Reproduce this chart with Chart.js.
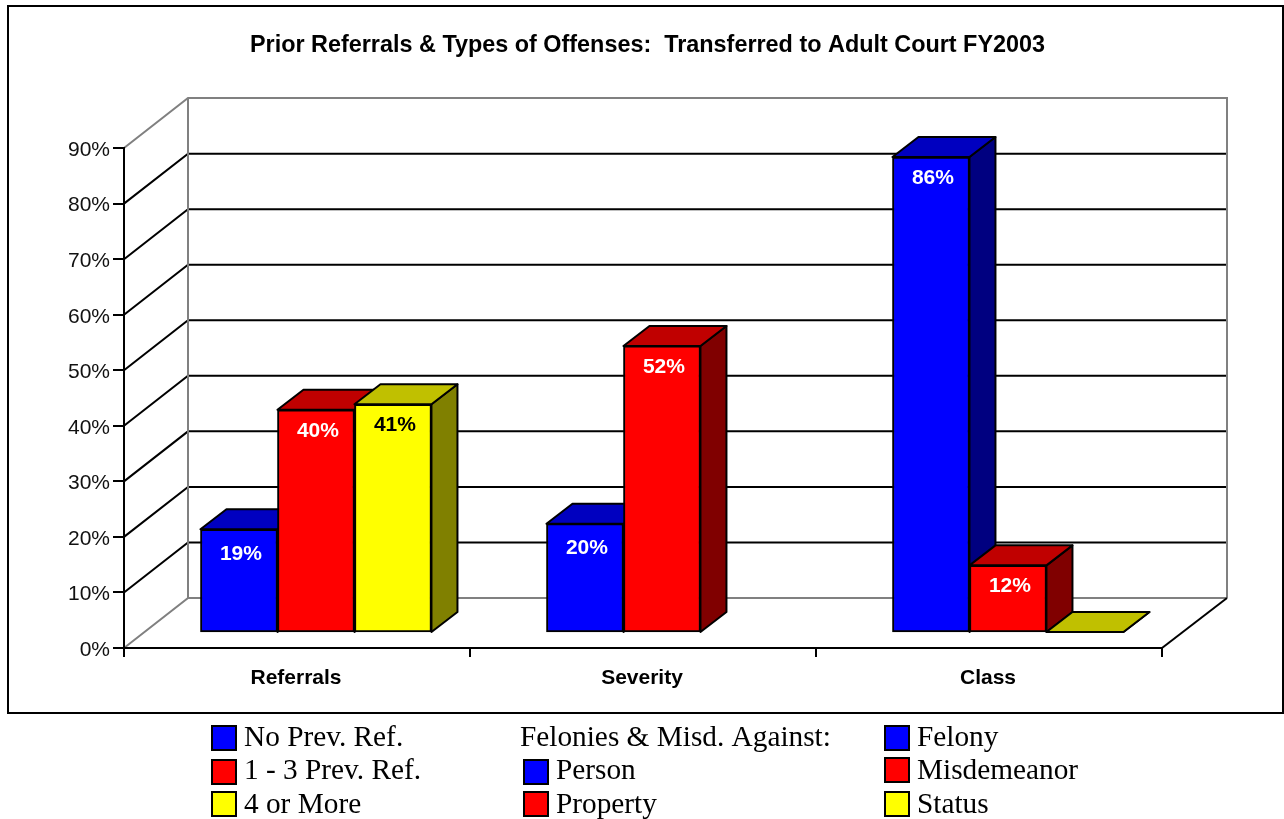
<!DOCTYPE html>
<html>
<head>
<meta charset="utf-8">
<title>Prior Referrals & Types of Offenses</title>
<script src="https://cdn.jsdelivr.net/npm/chart.js@4/dist/chart.umd.min.js"></script>
<style>
  html, body { margin: 0; padding: 0; background: #fff; }
  canvas { display: block; }
</style>
</head>
<body>
<canvas id="chart" width="1284" height="819"></canvas>
<script>
var chartTitle = "Prior Referrals & Types of Offenses:  Transferred to Adult Court FY2003";
var categories = ["Referrals", "Severity", "Class"];
var firstBars = [18.5, 19.5, 85.5];
var secondBars = [40, 51.5, 12];
var thirdBars = [41, null, 0];

var legendCol1 = ["No Prev. Ref.", "1 - 3 Prev. Ref.", "4 or More"];
var legendCol2 = ["Person", "Property"];
var legendCol2Head = "Felonies & Misd. Against:";
var legendCol3 = ["Felony", "Misdemeanor", "Status"];

var BLUE = { front: "#0000ff", top: "#0000c0", side: "#000080" };
var RED = { front: "#ff0000", top: "#c00000", side: "#800000" };
var YELLOW = { front: "#ffff00", top: "#c0c000", side: "#808000" };

// depth of the floor and of the bars, in px
var WALL_DX = 64, WALL_DY = 50;
var BAR_DX = 26, BAR_DY = 20;

function poly(ctx, pts, fill, stroke) {
    ctx.beginPath();
    ctx.moveTo(pts[0][0], pts[0][1]);
    for (var i = 1; i < pts.length; i++) ctx.lineTo(pts[i][0], pts[i][1]);
    if (fill) {
        ctx.closePath();
        ctx.fillStyle = fill;
        ctx.fill();
    }
    ctx.strokeStyle = stroke;
    ctx.lineWidth = 2;
    ctx.stroke();
}

var walls = {
    id: "walls",
    beforeDraw: function (chart) {
        var ctx = chart.ctx, a = chart.chartArea, y = chart.scales.y;
        var backL = a.left + WALL_DX, backR = a.right + WALL_DX + 1;
        ctx.save();
        ctx.strokeStyle = "#000";
        ctx.lineWidth = 2;
        ctx.strokeRect(8, 6, 1275, 707);
        for (var v = 10; v <= 80; v += 10) {
            var p = y.getPixelForValue(v);
            poly(ctx, [[a.left, p], [backL, p - WALL_DY], [backR, p - WALL_DY]], null, "#000");
        }
        var top = y.getPixelForValue(90), bottom = y.getPixelForValue(0);
        poly(ctx, [[a.left, top], [backL, top - WALL_DY], [backR, top - WALL_DY], [backR, bottom - WALL_DY]], null, "#808080");
        poly(ctx, [[a.left, bottom], [backL, bottom - WALL_DY], [backL, top - WALL_DY]], null, "#808080");
        poly(ctx, [[backL, bottom - WALL_DY], [backR, bottom - WALL_DY]], null, "#808080");
        poly(ctx, [[a.right, bottom], [backR, bottom - WALL_DY]], null, "#000");
        ctx.restore();
    }
};

var bars3d = {
    id: "bars3d",
    beforeDatasetsDraw: function (chart) {
        var ctx = chart.ctx;
        ctx.save();
        ctx.lineJoin = "round";
        chart.data.datasets.forEach(function (ds, d) {
            chart.getDatasetMeta(d).data.forEach(function (bar, i) {
                if (ds.data[i].y === null) return;
                var l = bar.x - bar.width / 2, r = bar.x + bar.width / 2, t = bar.y, b = bar.base;
                poly(ctx, [[r, t], [r + BAR_DX, t - BAR_DY], [r + BAR_DX, b - BAR_DY], [r, b]], ds.shade.side, "#000");
                poly(ctx, [[l, t], [l + BAR_DX, t - BAR_DY], [r + BAR_DX, t - BAR_DY], [r, t]], ds.shade.top, "#000");
                if (t === b) poly(ctx, [[l, b], [r, b]], null, "#000");
            });
        });
        ctx.restore();
    },
    afterDatasetsDraw: function (chart) {
        var ctx = chart.ctx;
        ctx.save();
        ctx.font = "bold 21px 'Liberation Sans'";
        ctx.textAlign = "center";
        ctx.textBaseline = "middle";
        chart.data.datasets.forEach(function (ds, d) {
            chart.getDatasetMeta(d).data.forEach(function (bar, i) {
                var v = ds.data[i].y;
                if (!v) return;
                // the two short blue bars carry their labels a bit lower
                var drop = (d === 0 && i < 2) ? 25 : 21;
                ctx.fillStyle = ds.shade === YELLOW ? "#000" : "#fff";
                ctx.fillText(Math.round(v) + "%", bar.x + 2, bar.y + drop);
            });
        });
        ctx.restore();
    }
};

function legendItem(ctx, x, boxY, textY, text, color) {
    ctx.fillStyle = color;
    ctx.fillRect(x + 1, boxY + 1, 24, 24);
    ctx.strokeStyle = "#000";
    ctx.lineWidth = 2;
    ctx.strokeRect(x + 1, boxY + 1, 24, 24);
    ctx.fillStyle = "#000";
    ctx.fillText(text, x + 33, textY);
}

var legendBlock = {
    id: "legendBlock",
    afterDraw: function (chart) {
        var ctx = chart.ctx;
        var colors = [BLUE.front, RED.front, YELLOW.front];
        var boxY = [725, 759, 791], boxY3 = [725, 757, 791], textY = [746, 779, 813];
        ctx.save();
        ctx.font = "29.3px 'Liberation Serif'";
        ctx.textAlign = "left";
        ctx.textBaseline = "alphabetic";
        legendCol1.forEach(function (t, i) { legendItem(ctx, 211, boxY[i], textY[i], t, colors[i]); });
        ctx.fillStyle = "#000";
        ctx.fillText(legendCol2Head, 520, textY[0]);
        legendCol2.forEach(function (t, i) { legendItem(ctx, 523, boxY[i + 1], textY[i + 1], t, colors[i]); });
        legendCol3.forEach(function (t, i) { legendItem(ctx, 884, boxY3[i], textY[i], t, colors[i]); });
        ctx.restore();
    }
};

// the title sits a little right of the plot centre in the original
var titleShift = {
    id: "titleShift",
    afterLayout: function (chart) {
        chart.titleBlock.left += 4.5;
        chart.titleBlock.right += 4.5;
    }
};

function series(values, shade) {
    return {
        data: values.map(function (v, i) { return { x: i, y: v }; }),
        backgroundColor: shade.front,
        borderColor: "#000",
        borderWidth: 2,
        borderSkipped: false,
        barThickness: 77,
        xAxisID: "x2",
        yAxisID: "y2",
        shade: shade
    };
}

var chartGraph = new Chart(document.getElementById("chart"), {
    type: "bar",
    data: {
        labels: categories,
        datasets: [series(firstBars, BLUE), series(secondBars, RED), series(thirdBars, YELLOW)]
    },
    plugins: [walls, bars3d, legendBlock, titleShift],
    options: {
        responsive: false,
        animation: false,
        events: [],
        layout: { padding: { left: 64, right: 122, top: 0, bottom: 131 } },
        plugins: {
            legend: { display: false },
            tooltip: { enabled: false },
            title: {
                display: true,
                text: chartTitle,
                color: "#000",
                fullSize: false,
                font: { family: "'Liberation Sans'", size: 23.4, weight: "bold" },
                padding: { top: 32, bottom: 88 }
            }
        },
        scales: {
            x: {
                type: "category",
                offset: true,
                grid: { offset: true, drawOnChartArea: false, color: "#000", lineWidth: 2, tickLength: 9 },
                border: { color: "#000", width: 2 },
                ticks: {
                    color: "#000",
                    font: { family: "'Liberation Sans'", size: 21, weight: "bold" },
                    padding: 9,
                    maxRotation: 0,
                    labelOffset: -1
                },
                afterFit: function (s) { s.height = 40; }
            },
            y: {
                min: 0,
                max: 90,
                grid: { drawOnChartArea: false, color: "#000", lineWidth: 2, tickLength: 11 },
                border: { color: "#000", width: 2 },
                ticks: {
                    stepSize: 10,
                    color: "#111",
                    font: { family: "'Liberation Sans'", size: 21 },
                    padding: 3,
                    labelOffset: 2,
                    callback: function (v) { return v + "%"; }
                },
                afterFit: function (s) { s.width = 60; }
            },
            // bars stand on the floor, in front of the back wall but behind the axis
            x2: { type: "linear", display: false, offset: false, min: -0.5 - 0.0578 + 0.003, max: 2.5 - 0.0578 + 0.003 },
            y2: { type: "linear", display: false, min: -2.88, max: 87.12 }
        }
    }
});
</script>
</body>
</html>
